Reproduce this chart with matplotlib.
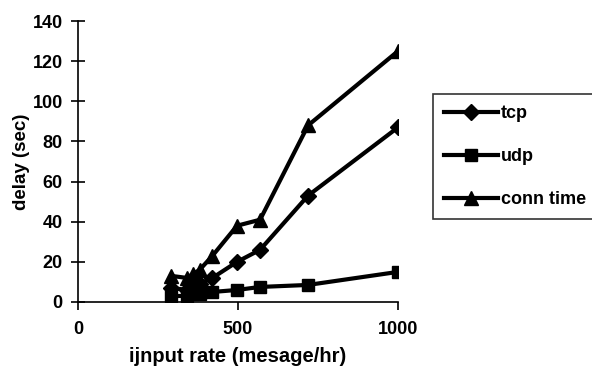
import matplotlib
matplotlib.use("Agg")
import matplotlib.pyplot as plt

plt.rcParams['font.family'] = ['Liberation Sans', 'DejaVu Sans']
plt.rcParams['font.weight'] = 'bold'

x_rate = [292, 340, 360, 380, 420, 497, 569, 719, 1000]
tcp = [7, 6, 8, 9, 12, 20, 26, 53, 87]
udp = [3, 3, 4, 4, 5, 6, 7.5, 8.5, 15]
conn_time = [13, 12, 14, 16, 23, 38, 41, 88, 125]

x_ticks = [0, 500, 1000]
y_ticks = [0, 20, 40, 60, 80, 100, 120, 140]

fig = plt.figure(figsize=(5.92, 3.84), dpi=100)
ax = fig.add_axes([78/592, 1-302/384, 320/592, 281/384])

ax.plot(x_rate, tcp, color='black', lw=3, marker='D', ms=8, label='tcp')
ax.plot(x_rate, udp, color='black', lw=3, marker='s', ms=9, label='udp')
ax.plot(x_rate, conn_time, color='black', lw=3, marker='^', ms=10, label='conn time')

ax.set_xlim(0, 1000)
ax.set_ylim(0, 140)
ax.set_xticks(x_ticks)
ax.set_yticks(y_ticks)
ax.spines['top'].set_visible(False)
ax.spines['right'].set_visible(False)
ax.spines['left'].set_linewidth(1.2)
ax.spines['bottom'].set_linewidth(1.2)
ax.tick_params(axis='y', direction='inout', length=10, width=1.2, labelsize=13, pad=6)
ax.tick_params(axis='x', direction='out', length=6, width=1.2, labelsize=13, pad=8)
for lab in ax.get_xticklabels() + ax.get_yticklabels():
    lab.set_fontweight('bold')

ax.set_ylabel('delay (sec)', fontsize=13.5, fontweight='bold', labelpad=2)
ax.set_xlabel('ijnput rate (mesage/hr)', fontsize=14.5, fontweight='bold', labelpad=6)

leg = ax.legend(loc='upper left', bbox_to_anchor=(433/592, 1-94/384), bbox_transform=fig.transFigure,
                frameon=True, fancybox=False, edgecolor='black', fontsize=13,
                handlelength=3.0, labelspacing=1.45, borderpad=0.6, handletextpad=0.15,
                borderaxespad=0)
leg.get_frame().set_linewidth(1.2)

fig.savefig('out.png', dpi=100)
